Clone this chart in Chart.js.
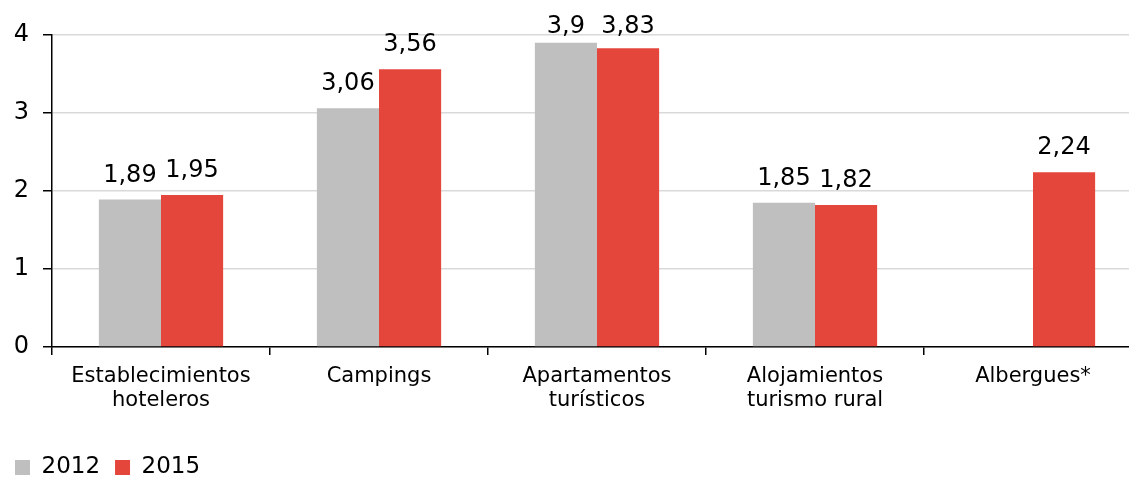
<!DOCTYPE html>
<html lang="es">
<head>
<meta charset="utf-8">
<title>Gasto por tipo de alojamiento</title>
<script src="https://cdn.jsdelivr.net/npm/chart.js@4"></script>
<style>
    html, body { margin: 0; padding: 0; background: #fff; }
    #wrap { width: 1129px; height: 477px; overflow: hidden; position: relative; }
    canvas { display: block; }
</style>
</head>
<body>
<div id="wrap"><canvas id="alojChart" width="1150" height="477"></canvas></div>
<script>
// Datos
const categorias = [
    ['Establecimientos', 'hoteleros'],
    'Campings',
    ['Apartamentos', 'turísticos'],
    ['Alojamientos', 'turismo rural'],
    'Albergues*'
];
const valores2012 = [1.89, 3.06, 3.9, 1.85, null];
const valores2015 = [1.95, 3.56, 3.83, 1.82, 2.24];
const ticksY = [0, 1, 2, 3, 4];

const FONT = "'DejaVu Sans', Verdana, sans-serif";
Chart.defaults.font.family = FONT;
Chart.defaults.color = '#000';

// Etiquetas de valor encima de cada barra (coma decimal)
const etiquetasValor = {
    id: 'etiquetasValor',
    afterDatasetsDraw(chart) {
        const ctx = chart.ctx;
        ctx.save();
        ctx.font = `24px ${FONT}`;
        ctx.fillStyle = '#000';
        ctx.textAlign = 'center';
        ctx.textBaseline = 'alphabetic';
        chart.data.datasets.forEach((ds, i) => {
            const meta = chart.getDatasetMeta(i);
            meta.data.forEach((bar, j) => {
                const v = ds.data[j];
                if (v === null || v === undefined) return;
                const y = Math.max(bar.y - 18, 33);
                ctx.fillText(String(v).replace('.', ','), bar.x, y);
            });
        });
        ctx.restore();
    }
};

new Chart(document.getElementById('alojChart').getContext('2d'), {
    type: 'bar',
    data: {
        labels: categorias,
        datasets: [
            {
                label: '2012',
                data: valores2012,
                backgroundColor: '#bfbfbf',
                barPercentage: 1, categoryPercentage: 0.57
            },
            {
                label: '2015',
                data: valores2015,
                backgroundColor: '#e5463b',
                barPercentage: 1, categoryPercentage: 0.57
            }
        ]
    },
    options: {
        responsive: false,
        animation: false,
        layout: { padding: { top: 35, right: 8, left: 0, bottom: -12 } },
        plugins: {
            legend: {
                position: 'bottom', align: 'start',
                labels: { boxWidth: 15, boxHeight: 15, padding: 15, font: { size: 23 }, color: '#000' }
            },
            tooltip: { enabled: false }
        },
        scales: {
            y: {
                min: 0, max: 4,
                afterBuildTicks: s => { s.ticks = ticksY.map(v => ({ value: v })); },
                afterFit: s => { s.width = 52; },
                border: { color: '#000', width: 1.5 },
                grid: { color: '#d9d9d9', lineWidth: 1.5, tickColor: '#000', tickLength: 9 },
                ticks: { padding: 14, font: { size: 24 }, color: '#000' }
            },
            x: {
                afterFit: s => { s.height = 94; },
                border: { color: '#000', width: 1.5 },
                grid: { drawOnChartArea: false, tickColor: '#000', tickLength: 8, lineWidth: 1.5 },
                ticks: { padding: 9, font: { size: 21, lineHeight: 1.15 }, color: '#000', maxRotation: 0, autoSkip: false }
            }
        }
    },
    plugins: [etiquetasValor]
});
</script>
</body>
</html>
